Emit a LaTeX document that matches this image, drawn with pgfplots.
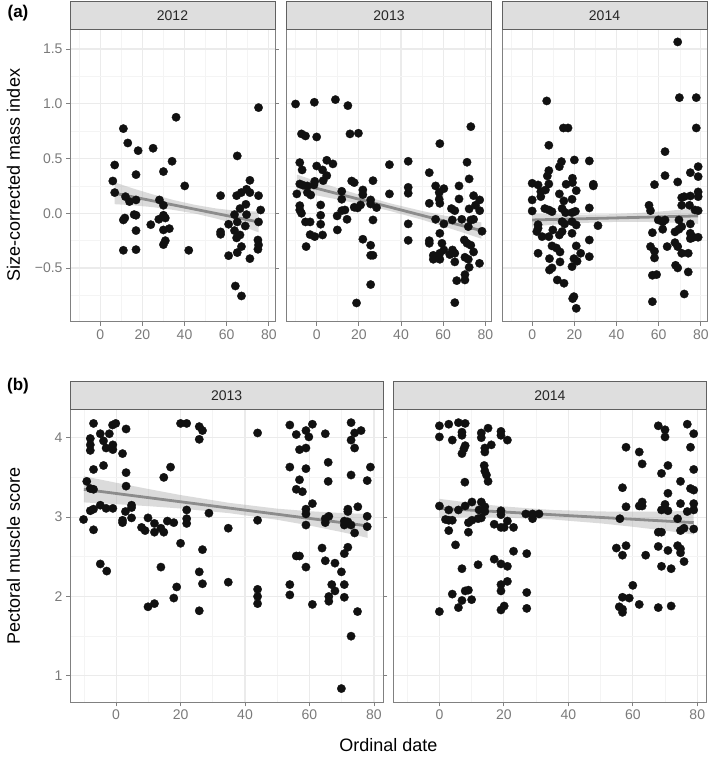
\documentclass[border=0pt]{standalone}
\usepackage{pgfplots}
\pgfplotsset{compat=1.18}
\usepackage{fontspec}
\setmainfont{Liberation Sans}
\definecolor{gridmaj}{HTML}{EBEBEB}
\definecolor{gridmin}{HTML}{F4F4F4}
\definecolor{border}{HTML}{808080}
\definecolor{ticklab}{HTML}{7A7A7A}
\definecolor{stripfill}{HTML}{DEDEDE}
\definecolor{stripborder}{HTML}{606060}
\definecolor{smooth}{HTML}{8C8C8C}
\definecolor{band}{HTML}{A6A6A6}
\definecolor{ptc}{HTML}{111111}
\pgfplotsset{
 panel/.style={
  scale only axis, xmin=-14.3, xmax=82.9,
  axis line style={draw=border, line width=0.9pt},
  xtick={0,20,40,60,80}, minor xtick={-10,10,30,50,70},
  grid=both,
  major grid style={draw=gridmaj, line width=1.1pt},
  minor grid style={draw=gridmin, line width=0.6pt},
  tick align=outside, major tick length=4pt, minor tick length=0pt,
  tick style={draw=border, line width=0.9pt},
  tick label style={font=\fontsize{14}{16}\selectfont, text=ticklab},
  /pgf/number format/assume math mode=true,
  clip=true,
 },
 toppanel/.style={panel, width=205pt, height=292.7pt, ymin=-0.99, ymax=1.683,
   ytick={-0.5,0,0.5,1,1.5}, minor ytick={-0.75,-0.25,0.25,0.75,1.25}},
 botpanel/.style={panel, width=313.3pt, height=293pt, ymin=0.667, ymax=4.358,
   ytick={1,2,3,4}, minor ytick={1.5,2.5,3.5}},
 noy/.style={ymajorticks=false, yticklabels={}},
 pts/.style={only marks, mark=*, mark size=4.2pt, mark options={draw=ptc, fill=ptc, line width=0.3pt}},
 bandst/.style={fill=band, fill opacity=0.4, draw=none},
 fitst/.style={draw=smooth, line width=2.8pt, no marks},
}
\newcommand{\strip}[2]{%
  \draw[fill=stripfill, draw=stripborder, line width=0.9pt] (#1.north west) rectangle ([yshift=27.5pt]#1.north east);
  \node[font=\fontsize{14}{16}\selectfont, text=black!85] at ([yshift=13.75pt]#1.north) {#2};}
\begin{document}
\begin{tikzpicture}
\useasboundingbox (0pt,0pt) rectangle (709pt,757pt);

% ---------- (a) 2012
\begin{axis}[toppanel, name=a1, at={(70pt,435.3pt)}, anchor=south west,
  yticklabels={−0.5,0.0,0.5,1.0,1.5}]
\addplot[pts] coordinates {(75.1,0.965)(36.0,0.877)(11.0,0.773)(13.1,0.642)(18.0,0.572)(25.1,0.594)(65.0,0.524)(6.9,0.441)(34.1,0.475)(17.0,0.353)(30.0,0.381)(6.0,0.295)(40.1,0.250)(71.0,0.301)(6.9,0.189)(12.0,0.152)(13.9,0.107)(17.0,0.122)(28.1,0.122)(30.0,0.073)(57.1,0.161)(64.7,0.161)(66.9,0.189)(69.4,0.219)(71.0,0.189)(75.1,0.161)(69.1,0.082)(66.3,0.043)(76.1,0.030)(16.1,-0.012)(17.0,-0.018)(11.0,-0.061)(11.7,-0.043)(24.0,-0.104)(27.8,-0.055)(30.0,-0.018)(30.9,-0.043)(30.0,-0.152)(32.8,-0.140)(17.0,-0.158)(30.9,-0.250)(30.0,-0.286)(11.0,-0.338)(17.0,-0.332)(42.0,-0.338)(57.1,-0.170)(57.1,-0.192)(60.9,-0.100)(63.7,-0.012)(65.0,-0.079)(69.4,-0.012)(68.8,-0.116)(63.7,-0.158)(66.3,-0.198)(64.7,-0.225)(67.0,-0.304)(65.0,-0.359)(60.9,-0.387)(71.0,-0.414)(74.8,-0.244)(75.1,-0.289)(74.8,-0.329)(75.1,-0.079)(64.1,-0.664)(67.0,-0.755)};
\addplot[bandst] coordinates {(6.9,0.283)(15,0.230)(25,0.172)(35,0.120)(45,0.077)(55,0.044)(65,0.022)(75.1,0.016)(75.1,-0.174)(65,-0.102)(55,-0.048)(45,-0.003)(35,0.030)(25,0.056)(15,0.074)(6.9,0.083)} -- cycle;
\addplot[fitst] coordinates {(6.9,0.183)(75.1,-0.079)};
\end{axis}
\strip{a1}{2012}

% ---------- (a) 2013
\begin{axis}[toppanel, noy, name=a2, at={(286.5pt,435.3pt)}, anchor=south west]
\addplot[pts] coordinates {(-10.0,0.998)(-1.1,1.014)(8.9,1.038)(14.8,0.983)(-7.2,0.725)(-5.3,0.706)(0.0,0.697)(15.8,0.725)(19.8,0.731)(73.1,0.791)(58.4,0.636)(-8.0,0.463)(-6.9,0.396)(0.0,0.432)(2.8,0.396)(4.8,0.484)(7.7,0.451)(4.8,0.344)(3.1,0.298)(34.5,0.444)(43.4,0.475)(71.3,0.466)(53.4,0.371)(72.3,0.314)(26.7,0.298)(16.6,0.295)(17.8,0.280)(-0.9,0.292)(-1.3,0.259)(-8.0,0.268)(-6.4,0.256)(-4.4,0.250)(-9.4,0.177)(-2.8,0.167)(-4.4,0.189)(11.9,0.201)(11.9,0.128)(21.9,0.213)(21.9,0.170)(43.4,0.237)(43.4,0.183)(34.5,0.177)(56.4,0.250)(60.3,0.225)(58.1,0.189)(58.1,0.128)(58.4,0.091)(53.4,0.091)(67.5,0.250)(67.5,0.131)(74.4,0.161)(77.3,0.122)(75.3,0.073)(72.3,0.040)(77.3,0.024)(63.9,0.043)(65.5,0.024)(25.6,0.122)(25.6,0.085)(28.4,0.052)(20.8,0.076)(17.8,0.055)(19.4,0.049)(1.9,0.076)(-8.0,0.070)(-8.0,0.030)(-7.2,0.000)(1.9,-0.018)(11.9,0.024)(13.4,0.030)(9.7,-0.024)(14.4,-0.055)(26.7,-0.061)(-5.3,-0.079)(-3.1,-0.079)(1.9,-0.100)(9.8,-0.152)(43.4,-0.097)(-3.1,-0.195)(-0.9,-0.213)(2.8,-0.198)(-5.0,-0.304)(21.9,-0.237)(25.6,-0.292)(25.6,-0.384)(26.7,-0.384)(43.4,-0.247)(25.6,-0.651)(18.9,-0.819)(56.4,-0.055)(60.3,-0.097)(58.4,-0.183)(64.3,-0.061)(68.8,-0.055)(53.4,-0.250)(53.4,-0.274)(59.4,-0.274)(60.3,-0.335)(55.3,-0.384)(55.3,-0.420)(57.0,-0.402)(58.4,-0.420)(58.4,-0.365)(63.1,-0.377)(64.4,-0.335)(65.5,-0.365)(65.5,-0.444)(66.4,-0.615)(65.5,-0.816)(70.0,-0.244)(71.3,-0.274)(73.1,-0.292)(74.4,-0.353)(70.3,-0.402)(71.9,-0.420)(72.3,-0.493)(70.3,-0.560)(70.3,-0.609)(77.2,-0.457)(78.4,-0.164)(73.1,-0.061)(74.4,-0.055)(71.9,-0.122)};
\addplot[bandst] coordinates {(-9.4,0.354)(0,0.293)(10,0.230)(20,0.171)(35,0.090)(50,0.021)(60,-0.019)(70,-0.056)(78.1,-0.083)(78.1,-0.233)(70,-0.180)(60,-0.119)(50,-0.059)(35,0.020)(20,0.087)(10,0.126)(0,0.163)(-9.4,0.194)} -- cycle;
\addplot[fitst] coordinates {(-9.4,0.274)(78.1,-0.158)};
\end{axis}
\strip{a2}{2013}

% ---------- (a) 2014
\begin{axis}[toppanel, noy, name=a3, at={(502pt,435.3pt)}, anchor=south west]
\addplot[pts] coordinates {(69.0,1.565)(6.9,1.026)(69.8,1.056)(77.8,1.056)(14.8,0.779)(17.0,0.779)(77.8,0.779)(7.9,0.621)(63.0,0.563)(20.0,0.487)(27.1,0.478)(13.9,0.472)(12.9,0.426)(7.9,0.390)(7.2,0.341)(78.7,0.426)(75.0,0.371)(63.0,0.344)(69.0,0.286)(78.7,0.335)(0.0,0.274)(2.8,0.259)(7.9,0.268)(19.1,0.320)(19.1,0.280)(16.1,0.265)(29.0,0.265)(29.0,0.250)(58.0,0.262)(4.1,0.198)(6.3,0.213)(4.1,0.152)(20.9,0.207)(12.9,0.177)(0.0,0.122)(15.0,0.113)(18.9,0.128)(70.9,0.143)(78.7,0.195)(75.0,0.158)(78.7,0.152)(72.1,0.152)(0.0,0.021)(6.0,0.043)(7.9,0.030)(9.4,0.015)(14.2,0.043)(15.8,0.006)(18.9,0.006)(20.5,0.018)(27.1,0.049)(55.4,0.073)(56.1,0.024)(70.9,0.073)(74.6,0.073)(77.2,0.030)(78.7,0.024)(2.8,-0.104)(2.8,-0.137)(2.2,-0.167)(14.2,-0.076)(15.4,-0.097)(18.9,-0.076)(20.9,-0.107)(31.2,-0.113)(59.8,-0.061)(61.9,-0.079)(61.9,-0.146)(63.0,-0.061)(69.6,-0.061)(75.0,-0.097)(70.9,-0.122)(4.7,-0.213)(7.9,-0.213)(9.8,-0.152)(12.9,-0.198)(14.2,-0.167)(18.9,-0.183)(57.0,-0.177)(67.7,-0.170)(69.6,-0.146)(75.0,-0.183)(76.5,-0.219)(78.7,-0.219)(75.0,-0.231)(27.1,-0.244)(9.4,-0.298)(11.5,-0.317)(13.2,-0.353)(20.9,-0.298)(2.8,-0.365)(23.0,-0.365)(27.1,-0.396)(56.1,-0.304)(58.0,-0.347)(58.0,-0.408)(64.0,-0.304)(67.7,-0.268)(69.0,-0.304)(70.9,-0.365)(74.0,-0.365)(8.2,-0.414)(13.2,-0.444)(19.8,-0.414)(18.9,-0.487)(21.3,-0.438)(9.4,-0.499)(8.2,-0.518)(68.0,-0.475)(69.0,-0.499)(74.0,-0.536)(57.0,-0.566)(59.0,-0.560)(11.9,-0.609)(15.1,-0.639)(72.1,-0.737)(57.0,-0.807)(19.8,-0.761)(19.2,-0.779)(20.9,-0.868)};
\addplot[bandst] coordinates {(0,-0.001)(10,-0.008)(20,-0.012)(35,-0.010)(50,0.002)(60,0.015)(70,0.032)(78.7,0.048)(78.7,-0.096)(70,-0.088)(60,-0.081)(50,-0.078)(35,-0.080)(20,-0.092)(10,-0.104)(0,-0.121)} -- cycle;
\addplot[fitst] coordinates {(0,-0.061)(78.7,-0.024)};
\end{axis}
\strip{a3}{2014}

% ---------- (b) 2013
\begin{axis}[botpanel, name=b1, at={(70pt,54.7pt)}, anchor=south west]
\addplot[pts] coordinates {(-7.0,4.18)(-8.0,3.99)(-8.0,3.91)(-8.0,3.84)(-4.9,4.05)(-3.9,3.96)(-3.1,3.87)(-2.1,4.05)(-1.1,4.16)(-0.1,4.18)(-1.0,3.91)(-1.0,3.85)(3.1,4.11)(2.0,3.80)(-7.0,3.60)(-3.9,3.65)(3.1,3.56)(16.9,3.63)(14.8,3.50)(-9.1,3.45)(-8.0,3.36)(-7.0,3.35)(3.1,3.39)(-8.0,3.08)(-7.0,3.10)(-4.9,3.15)(-3.1,3.11)(-1.0,3.11)(4.8,3.15)(4.8,3.12)(2.9,3.07)(-10.1,2.97)(2.0,2.96)(2.0,2.93)(4.8,2.99)(-7.0,2.84)(7.9,2.87)(9.0,2.83)(9.9,2.99)(11.9,2.92)(11.9,2.81)(13.9,2.86)(14.8,2.81)(15.9,2.95)(17.9,2.93)(21.9,3.09)(21.9,2.98)(21.9,2.92)(28.8,3.05)(20.0,2.67)(26.8,2.59)(13.9,2.37)(-4.9,2.41)(-2.9,2.32)(18.8,2.12)(17.9,1.98)(9.9,1.87)(11.9,1.91)(25.8,2.31)(26.8,2.16)(25.8,1.82)(20.0,4.18)(21.9,4.18)(25.8,4.14)(26.8,4.09)(25.8,3.98)(34.8,2.86)(34.8,2.18)(43.9,4.06)(43.9,2.96)(43.9,2.09)(43.9,2.00)(43.9,1.91)(53.9,4.16)(55.9,4.04)(58.9,4.09)(59.8,4.01)(60.9,4.17)(64.9,4.05)(56.9,3.85)(58.9,3.87)(53.9,3.63)(58.9,3.61)(65.8,3.69)(56.9,3.47)(55.9,3.35)(57.8,3.32)(65.8,3.45)(72.9,4.19)(74.0,4.06)(76.0,4.09)(72.9,3.97)(74.0,3.87)(78.9,3.63)(72.9,3.53)(77.9,3.46)(60.9,3.17)(58.9,3.10)(58.9,3.04)(58.9,2.90)(64.9,2.98)(64.9,2.93)(66.0,3.01)(71.9,3.10)(71.9,3.07)(75.0,3.13)(70.8,2.95)(70.8,2.90)(71.9,2.94)(72.9,2.90)(74.0,2.80)(77.9,3.01)(77.9,2.88)(63.9,2.61)(55.9,2.51)(56.9,2.51)(58.9,2.37)(64.9,2.45)(67.9,2.42)(69.9,2.31)(71.9,2.62)(70.8,2.54)(53.9,2.15)(53.9,2.02)(60.9,1.90)(66.0,2.00)(66.0,1.94)(66.9,2.15)(67.9,2.07)(70.8,2.15)(70.8,1.99)(74.9,1.81)(72.9,1.50)(69.9,0.84)};
\addplot[bandst] coordinates {(-10,3.515)(0,3.433)(10,3.354)(20,3.278)(35,3.180)(50,3.106)(60,3.074)(70,3.051)(78,3.039)(78,2.739)(70,2.811)(60,2.894)(50,2.966)(35,3.050)(20,3.108)(10,3.138)(0,3.163)(-10,3.185)} -- cycle;
\addplot[fitst] coordinates {(-10,3.350)(78,2.889)};
\end{axis}
\strip{b1}{2013}

% ---------- (b) 2014
\begin{axis}[botpanel, noy, name=b2, at={(393.3pt,54.7pt)}, anchor=south west]
\addplot[pts] coordinates {(0.0,4.15)(2.9,4.17)(5.9,4.19)(8.0,4.18)(0.0,4.01)(4.0,3.97)(7.0,4.03)(7.0,4.07)(13.0,4.06)(13.0,4.00)(15.1,4.12)(19.1,4.08)(19.1,4.03)(21.1,3.97)(8.0,3.90)(7.6,3.86)(7.0,3.80)(14.1,3.87)(14.1,3.82)(16.1,3.91)(13.9,3.65)(14.1,3.58)(14.6,3.53)(15.1,3.45)(7.9,3.44)(0.0,3.14)(2.9,3.09)(5.9,3.09)(8.0,3.14)(10.1,3.19)(13.0,3.19)(14.1,3.13)(12.3,3.09)(14.1,3.07)(19.1,3.08)(19.1,3.03)(1.9,2.97)(2.9,2.96)(4.0,2.96)(10.1,2.96)(9.0,2.93)(13.0,2.99)(12.0,2.98)(17.0,2.91)(19.1,2.87)(20.1,2.87)(21.1,2.95)(23.0,2.87)(26.8,3.04)(28.9,3.04)(30.9,3.04)(28.9,2.98)(2.9,2.83)(9.0,2.81)(5.0,2.65)(23.0,2.57)(27.1,2.54)(17.0,2.47)(19.1,2.41)(21.1,2.38)(12.0,2.40)(7.0,2.35)(19.1,2.15)(21.1,2.19)(19.1,2.07)(4.0,2.03)(8.0,2.07)(9.0,2.08)(7.0,1.95)(10.0,1.96)(5.9,1.86)(0.0,1.81)(19.1,1.83)(20.1,1.88)(27.1,2.05)(27.1,1.85)(67.9,4.15)(70.0,4.10)(70.0,4.01)(76.9,4.17)(78.9,4.05)(77.9,3.88)(57.9,3.88)(62.0,3.82)(62.9,3.67)(68.9,3.55)(70.9,3.65)(78.9,3.60)(74.8,3.45)(56.8,3.37)(77.9,3.36)(78.9,3.34)(70.9,3.30)(57.9,3.13)(62.0,3.14)(62.9,3.19)(62.9,3.14)(70.0,3.16)(68.9,3.09)(70.9,3.08)(74.8,3.17)(78.9,3.17)(76.9,3.07)(78.9,3.09)(56.0,2.98)(73.9,2.98)(67.9,2.81)(68.9,2.81)(74.8,2.83)(75.9,2.86)(78.9,2.85)(54.9,2.61)(57.9,2.64)(56.8,2.52)(64.0,2.52)(67.9,2.63)(70.9,2.58)(73.9,2.64)(74.8,2.60)(74.8,2.55)(75.9,2.44)(68.9,2.38)(71.9,2.35)(60.0,2.14)(56.8,1.99)(58.9,1.98)(62.0,1.90)(55.8,1.87)(56.8,1.84)(56.8,1.80)(67.9,1.86)(71.9,1.88)};
\addplot[bandst] coordinates {(0,3.230)(10,3.177)(20,3.134)(35,3.090)(50,3.071)(60,3.068)(70,3.070)(78.9,3.080)(78.9,2.780)(70,2.830)(60,2.878)(50,2.921)(35,2.970)(20,2.994)(10,2.997)(0,2.990)} -- cycle;
\addplot[fitst] coordinates {(0,3.110)(78.9,2.930)};
\end{axis}
\strip{b2}{2014}

% ---------- titles
\node[rotate=90, font=\fontsize{18}{20}\selectfont] at (13.5pt,582pt) {Size-corrected mass index};
\node[rotate=90, font=\fontsize{18}{20}\selectfont] at (13.5pt,201pt) {Pectoral muscle score};
\node[font=\fontsize{18}{20}\selectfont] at (388.3pt,12pt) {Ordinal date};
\node[font=\bfseries\fontsize{17}{19}\selectfont] at (18pt,744pt) {(a)};
\node[font=\bfseries\fontsize{17}{19}\selectfont] at (18pt,371pt) {(b)};
\end{tikzpicture}
\end{document}
